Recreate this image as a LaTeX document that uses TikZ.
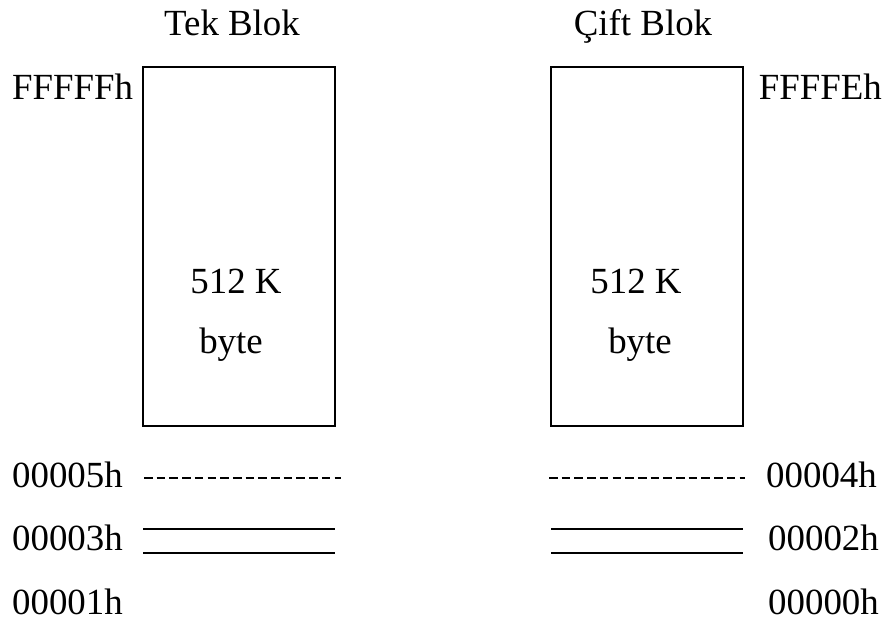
\documentclass[tikz,border=0pt]{standalone}
\usepackage{fontspec}
\setmainfont{Liberation Serif}
\begin{document}
\begin{tikzpicture}[x=1bp,y=-1bp,
  lbl/.style={inner sep=0pt,font=\fontsize{37}{44}\selectfont},
  block/.style={draw,line width=1.1bp,minimum width=192bp,minimum height=359bp,inner sep=0pt},
  sep/.style={line width=1.8bp,dash pattern=on 8.6bp off 4.1bp},
  rule/.style={line width=1.3bp}]
\useasboundingbox (0,0) rectangle (888,621);

% memory banks
\node[block] (odd)  at (239,246.5) {};
\node[block] (even) at (647,246.5) {};

% titles
\node[lbl,anchor=base] (oddt)  at (232,36) {Tek Blok};
\node[lbl,anchor=base] (event) at (643,36) {Çift Blok};

% top addresses
\node[lbl,anchor=base west] (fff) at (12,100) {FFFFFh};
\node[lbl,anchor=base east] (ffe) at (882,100) {FFFFEh};

% sizes
\node[lbl,anchor=base] (osz) at (236,293) {512 K};
\node[lbl,anchor=base] (oby) at (231,353) {byte};
\node[lbl,anchor=base] (esz) at (636,293) {512 K};
\node[lbl,anchor=base] (eby) at (640,353) {byte};

% low addresses
\node[lbl,anchor=base west] (a5) at (12,487) {00005h};
\node[lbl,anchor=base west] (a3) at (12,550) {00003h};
\node[lbl,anchor=base west] (a1) at (12,614) {00001h};
\node[lbl,anchor=base west] (a4) at (766,487) {00004h};
\node[lbl,anchor=base west] (a2) at (768,550) {00002h};
\node[lbl,anchor=base west] (a0) at (768,614) {00000h};

% separators
\coordinate (l5a) at (144,478); \coordinate (l5b) at (341,478);
\coordinate (r4a) at (549,478); \coordinate (r4b) at (745,478);
\draw[sep] (l5a) -- (l5b);
\draw[sep] (r4a) -- (r4b);

\coordinate (l3a) at (143,529); \coordinate (l3b) at (335,529);
\coordinate (l3c) at (143,553); \coordinate (l3d) at (335,553);
\coordinate (r2a) at (551,529); \coordinate (r2b) at (743,529);
\coordinate (r2c) at (551,553); \coordinate (r2d) at (743,553);
\draw[rule] (l3a) -- (l3b) (l3c) -- (l3d);
\draw[rule] (r2a) -- (r2b) (r2c) -- (r2d);
\end{tikzpicture}
\end{document}
